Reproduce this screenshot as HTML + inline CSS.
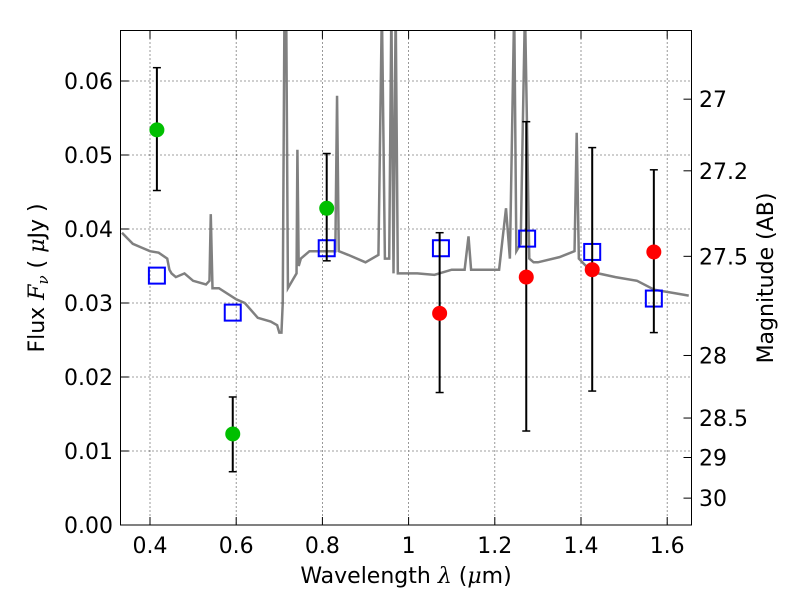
<!DOCTYPE html>
<html><head><meta charset="utf-8">
<style>
body{margin:0;background:#fff;}
svg{display:block;font-family:"DejaVu Sans","Liberation Sans",sans-serif;}
</style></head>
<body>
<svg id="chart" width="800" height="600" viewBox="0 0 800 600" xmlns="http://www.w3.org/2000/svg">
<rect x="0" y="0" width="800" height="600" fill="#fff"/>
<g id="grid"></g>
<g id="spec"></g>
<g id="marks"></g>
<rect x="120.5" y="30.5" width="571" height="494.5" fill="none" stroke="#000" stroke-width="1"/>
<g id="axes"></g>
<text x="406" y="583" font-size="22" text-anchor="middle">Wavelength  <tspan font-style="italic" font-family="DejaVu Serif, serif">λ</tspan> (<tspan font-style="italic" font-family="DejaVu Serif, serif">μ</tspan>m)</text>
<text transform="translate(44,278) rotate(-90)" font-size="22" text-anchor="middle">Flux  <tspan font-style="italic" font-family="DejaVu Serif, serif">F<tspan font-size="15" dy="4">ν</tspan></tspan><tspan dy="-4">  (  </tspan><tspan font-style="italic" font-family="DejaVu Serif, serif">μ</tspan>Jy )</text>
<text transform="translate(773,278) rotate(-90)" font-size="22" text-anchor="middle">Magnitude (AB)</text>
</svg>
<script>
const xTicks=[0.4,0.6,0.8,1.0,1.2,1.4,1.6];
const xTickLabels=["0.4","0.6","0.8","1","1.2","1.4","1.6"];
const yTicks=[0,0.01,0.02,0.03,0.04,0.05,0.06];
const yTickLabels=["0.00","0.01","0.02","0.03","0.04","0.05","0.06"];
const magTicks=[27,27.2,27.5,28,28.5,29,30];
const magTickLabels=["27","27.2","27.5","28","28.5","29","30"];
const specWave=[0.335,0.36,0.38,0.40,0.42,0.44,0.445,0.45,0.46,0.48,0.50,0.53,0.538,0.541,0.545,0.56,0.60,0.62,0.65,0.68,0.695,0.70,0.705,0.708,0.712,0.716,0.72,0.73,0.74,0.742,0.745,0.75,0.77,0.80,0.83,0.834,0.838,0.86,0.90,0.93,0.938,0.945,0.955,0.96,0.965,0.97,0.975,0.99,1.02,1.06,1.10,1.13,1.139,1.145,1.17,1.21,1.226,1.235,1.245,1.25,1.26,1.27,1.28,1.29,1.30,1.35,1.385,1.39,1.395,1.42,1.44,1.48,1.53,1.57,1.62,1.65];
const specFlux=[0.0395,0.038,0.0375,0.037,0.0368,0.036,0.0345,0.034,0.0335,0.034,0.033,0.0325,0.033,0.042,0.032,0.032,0.0305,0.03,0.028,0.0275,0.027,0.026,0.026,0.03,0.07,0.07,0.032,0.033,0.034,0.0507,0.035,0.036,0.037,0.037,0.037,0.058,0.037,0.0365,0.0355,0.0365,0.07,0.036,0.036,0.07,0.034,0.07,0.034,0.034,0.034,0.0338,0.0345,0.0345,0.039,0.0345,0.0345,0.0345,0.0428,0.036,0.07,0.037,0.038,0.07,0.036,0.0355,0.0355,0.0362,0.037,0.053,0.036,0.0345,0.034,0.0335,0.033,0.0318,0.0313,0.031];
const greenWave=[0.416,0.592,0.81];
const greenFlux=[0.0534,0.0123,0.0428];
const greenLo=[0.0452,0.0072,0.0357];
const greenHi=[0.0618,0.0173,0.0502];
const redWave=[1.072,1.273,1.426,1.569];
const redFlux=[0.0286,0.0335,0.0345,0.0369];
const redLo=[0.0179,0.0127,0.0181,0.026];
const redHi=[0.0395,0.0545,0.051,0.048];
const boxWave=[0.416,0.592,0.81,1.075,1.275,1.426,1.569];
const boxFlux=[0.0337,0.0287,0.0374,0.0374,0.0387,0.0369,0.0306];

const NS="http://www.w3.org/2000/svg";
const L=120.5,R=691.5,T=30.5,B=525;
const xs=w=>150+(w-0.4)*431;
const ys=f=>525-f*7400;
const magY=m=>ys(Math.pow(10,-0.4*(m-23.9)));
function el(tag,attrs,parent){const e=document.createElementNS(NS,tag);for(const k in attrs)e.setAttribute(k,attrs[k]);parent.appendChild(e);return e;}
const grid=document.getElementById('grid'),axes=document.getElementById('axes'),spec=document.getElementById('spec'),marks=document.getElementById('marks');
xTicks.forEach((t,i)=>{const x=xs(t);
 const g=el('line',{x1:x,x2:x,y1:T,y2:B,stroke:'#000','stroke-dasharray':'1,3','stroke-width':0.8},grid);
 
 el('line',{x1:x,x2:x,y1:B,y2:B-8,stroke:'#000'},axes);el('line',{x1:x,x2:x,y1:T,y2:T+8,stroke:'#000'},axes);
 const tx=el('text',{x:x,y:553,'font-size':22,'text-anchor':'middle'},axes);tx.textContent=xTickLabels[i];
 });
yTicks.forEach((t,i)=>{const y=ys(t);
 if(i>0){const g=el('line',{x1:L,x2:R,y1:y,y2:y,stroke:'#000','stroke-dasharray':'1,3','stroke-width':0.8},grid);
 }
 el('line',{x1:L,x2:L+8,y1:y,y2:y,stroke:'#000'},axes);
 const tx=el('text',{x:113,y:y+8,'font-size':22,'text-anchor':'end'},axes);tx.textContent=yTickLabels[i];
 });
magTicks.forEach((m,i)=>{const y=magY(m);
 el('line',{x1:R,x2:R-8,y1:y,y2:y,stroke:'#000'},axes);
 const tx=el('text',{x:699,y:y+8,'font-size':22},axes);tx.textContent=magTickLabels[i];
 });
el('clipPath',{id:'clip'},spec);
el('rect',{x:L,y:T,width:R-L,height:B-T},document.getElementById('clip'));
const pts=specWave.map((w,i)=>xs(w)+','+ys(specFlux[i])).join(' ');
const pl=el('polyline',{points:pts,fill:'none',stroke:'#808080','stroke-width':2.5,'clip-path':'url(#clip)'},spec);

function errbar(w,lo,hi){const x=xs(w);
 const g=el('g',{},marks);
 el('line',{x1:x,x2:x,y1:ys(lo),y2:ys(hi),stroke:'#000','stroke-width':2},g);
 el('line',{x1:x-4,x2:x+4,y1:ys(lo),y2:ys(lo),stroke:'#000','stroke-width':1.5},g);
 el('line',{x1:x-4,x2:x+4,y1:ys(hi),y2:ys(hi),stroke:'#000','stroke-width':1.5},g);}
boxWave.forEach((w,i)=>{const b=el('rect',{x:xs(w)-8,y:ys(boxFlux[i])-8,width:16,height:16,fill:'none',stroke:'#0000ff','stroke-width':2},marks);
 });
greenWave.forEach((w,i)=>{errbar(w,greenLo[i],greenHi[i]);
 const c=el('circle',{cx:xs(w),cy:ys(greenFlux[i]),r:7.5,fill:'#00bf00'},marks);
 });
redWave.forEach((w,i)=>{errbar(w,redLo[i],redHi[i]);
 const c=el('circle',{cx:xs(w),cy:ys(redFlux[i]),r:7.5,fill:'#ff0000'},marks);
 });
</script>
</body></html>
